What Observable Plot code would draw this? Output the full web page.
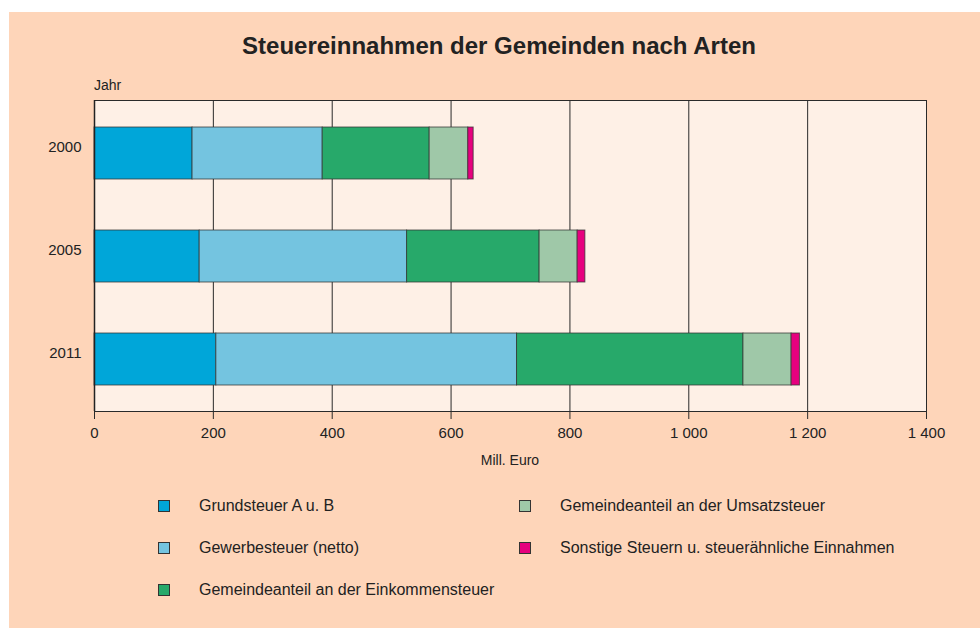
<!DOCTYPE html>
<html>
<head>
<meta charset="utf-8">
<script src="https://cdn.jsdelivr.net/npm/d3@7"></script>
<script src="https://cdn.jsdelivr.net/npm/@observablehq/plot@0.6"></script>
<style>
  html, body { margin: 0; padding: 0; background: #ffffff; }
  #page { position: relative; width: 980px; height: 628px; overflow: hidden; font-family: "Liberation Sans", Arial, sans-serif; color: #222; }
  #bg { position: absolute; left: 9px; top: 12px; right: 0; bottom: 0; background: #fed5b9; }
  #title { position: absolute; left: 0; width: 998px; top: 32px; text-align: center; font-size: 24px; line-height: 28px; font-weight: bold; color: #222; }
  #jahr { position: absolute; left: 94px; top: 77px; font-size: 14px; line-height: 17px; }
  #xlabel { position: absolute; left: 410px; width: 200px; top: 452px; text-align: center; font-size: 14px; line-height: 17px; }
  #chart { position: absolute; left: 0; top: 70px; }
  .leg { position: absolute; font-size: 16px; line-height: 18px; display: flex; align-items: center; }
  .leg .sw { width: 12px; height: 12px; border: 1px solid #333; box-sizing: border-box; margin-right: 29px; }
</style>
</head>
<body>
<div id="page">
  <div id="bg"></div>
  <div id="title">Steuereinnahmen der Gemeinden nach Arten</div>
  <div id="jahr">Jahr</div>
  <div id="chart"></div>
  <div id="xlabel">Mill. Euro</div>
  <div id="legend"></div>
</div>
<script>
const years = ["2000", "2005", "2011"];
const categories = [
  "Grundsteuer A u. B",
  "Gewerbesteuer (netto)",
  "Gemeindeanteil an der Einkommensteuer",
  "Gemeindeanteil an der Umsatzsteuer",
  "Sonstige Steuern u. steuerähnliche Einnahmen"
];
const colors = ["#00a6d9", "#74c4e0", "#27a96a", "#9fc8a8", "#e6007e"];
const grundsteuer = [165, 177, 205];
const gewerbesteuer = [219, 349, 506];
const einkommensteuer = [180, 223, 381];
const umsatzsteuer = [65, 64, 81];
const sonstige = [9, 13, 14];
const xTicks = [0, 200, 400, 600, 800, 1000, 1200, 1400];

const series = [grundsteuer, gewerbesteuer, einkommensteuer, umsatzsteuer, sonstige];
const data = [];
years.forEach((y, i) => {
  categories.forEach((c, j) => data.push({year: y, cat: c, value: series[j][i]}));
});

const fmt = d3.formatLocale({decimal: ",", thousands: " ", grouping: [3], currency: ["", " €"]}).format(",d");

const chart = Plot.plot({
  width: 980,
  height: 380,
  marginLeft: 94,
  marginRight: 54,
  marginTop: 30,
  marginBottom: 39,
  style: {background: "transparent", fontFamily: "'Liberation Sans', Arial, sans-serif", fontSize: "15px", color: "#222"},
  x: {domain: [0, 1400], ticks: xTicks, tickFormat: fmt, label: null},
  y: {domain: years, paddingInner: 0.5, paddingOuter: 0.25, label: null},
  color: {domain: categories, range: colors},
  marks: [
    Plot.frame({fill: "#fef0e6", stroke: null}),
    Plot.gridX(xTicks, {stroke: "#2a2a2a", strokeOpacity: 1, strokeWidth: 1}),
    Plot.barX(data, Plot.stackX({x: "value", y: "year", fill: "cat", order: categories, stroke: "#333", strokeOpacity: 0.75, strokeWidth: 1})),
    Plot.frame({stroke: "#2a2a2a", strokeWidth: 1}),
    Plot.axisX(xTicks, {tickSize: 8, tickPadding: 8, tickFormat: fmt, label: null, stroke: "#2a2a2a", fill: "#222", fontSize: 15}),
    Plot.ruleY([0], {frameAnchor: "bottom", stroke: "#222", strokeWidth: 1.5}),
    Plot.axisY({tickSize: 0, tickPadding: 13, label: null, dy: -6, fill: "#222", fontSize: 15}),
    Plot.ruleX([0], {stroke: "#222", strokeWidth: 1.5})
  ]
});
document.getElementById("chart").appendChild(chart);

// legend
const legPos = [
  {x: 158, y: 497}, {x: 158, y: 539}, {x: 158, y: 581},
  {x: 519, y: 497}, {x: 519, y: 539}
];
const legend = document.getElementById("legend");
categories.forEach((c, i) => {
  const d = document.createElement("div");
  d.className = "leg";
  d.style.left = legPos[i].x + "px";
  d.style.top = legPos[i].y + "px";
  d.innerHTML = `<span class="sw" style="background:${colors[i]}"></span><span>${c}</span>`;
  legend.appendChild(d);
});
</script>
</body>
</html>
